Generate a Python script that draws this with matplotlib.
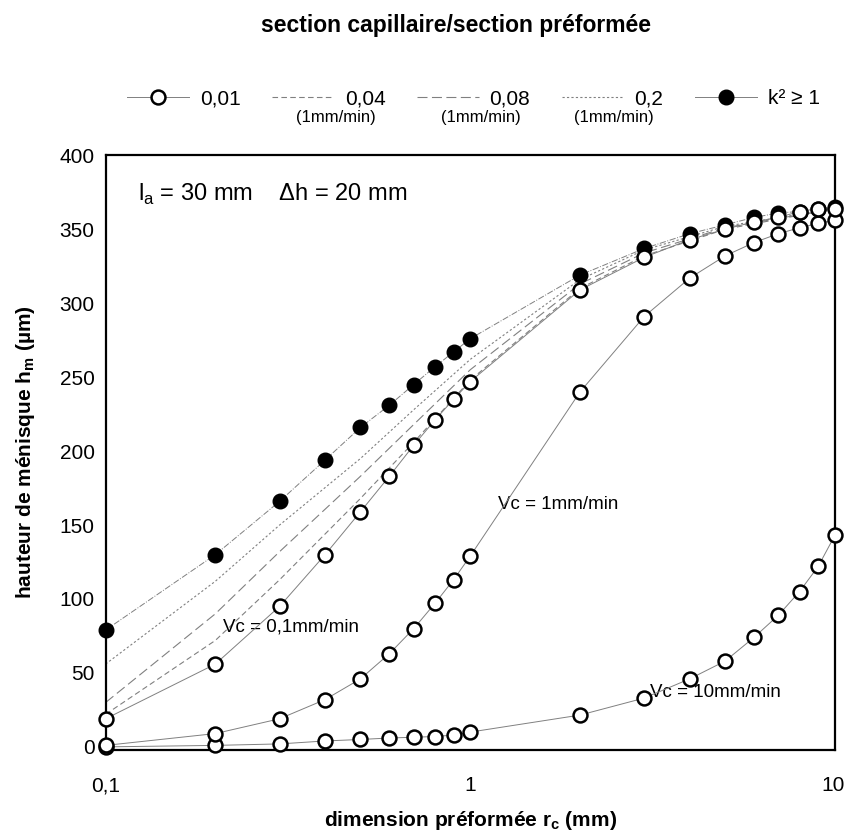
import numpy as np
import matplotlib
matplotlib.use("Agg")
from matplotlib import pyplot as plt
from matplotlib import transforms
from matplotlib.lines import Line2D

plt.rcParams['font.family'] = ['Liberation Sans', 'DejaVu Sans']

# preformed dimension r_c (mm)
x_pts = [0.1, 0.2, 0.3, 0.4, 0.5, 0.6, 0.7, 0.8, 0.9, 1, 2, 3, 4, 5, 6, 7, 8, 9, 10]

# section ratio 0.01, three pulling speeds
h_vc01 = [19, 56, 95, 130, 159, 183, 204, 221, 235, 247, 309, 331, 343, 350, 355, 358, 362, 364, 364]
h_vc1 = [1, 9, 19, 32, 46, 63, 80, 97, 113, 129, 240, 291, 317, 332, 341, 347, 351, 354, 356]
h_vc10 = [0, 1, 2, 4, 5, 6, 6.5, 7, 8, 10, 21.5, 33, 46, 58, 74, 89, 105, 122, 143]

# k^2 >= 1
h_k2 = [79, 130, 166, 194, 216, 231, 245, 257, 267, 276, 319, 337, 347, 353, 358, 361, 362, 364, 365]

# curves only (1mm/min)
x_lines = [0.1, 0.2, 0.3, 0.5, 0.7, 1, 2, 3, 5, 10]
h_004 = [22, 72, 113, 168, 206, 248, 310, 332, 350, 364]
h_008 = [30, 90, 132, 183, 218, 255, 313, 334, 351, 364]
h_02 = [56, 112, 150, 195, 228, 262, 316, 336, 352, 364]

fig = plt.figure(figsize=(8.45, 8.35), dpi=100)
ax = fig.add_axes([0.125, 0.102, 0.863, 0.712])

lc = '0.5'
ax.plot(x_lines, h_004, color=lc, lw=0.8, ls=(0, (5, 3)))
ax.plot(x_lines, h_008, color=lc, lw=0.8, ls=(0, (9, 4)))
ax.plot(x_lines, h_02, color=lc, lw=0.8, ls=(0, (2, 2)))

ax.plot(x_pts, h_k2, color=lc, lw=0.7, ls='-.', marker='o', ms=10.5,
        mfc='black', mec='black', clip_on=False, zorder=3)
for h in (h_vc10, h_vc1, h_vc01):
    ax.plot(x_pts, h, color=lc, lw=0.7, ls='-', marker='o', ms=10,
            mfc='white', mec='black', mew=1.8, clip_on=False, zorder=4)

ax.set_xscale('log')
ax.set_xlim(0.1, 10)
ax.set_ylim(-2, 400)
ax.set_xticks([0.1, 1, 10])
ax.set_xticklabels(['0,1', '1', '10'])
ax.xaxis.set_minor_locator(matplotlib.ticker.NullLocator())
ax.set_yticks(np.arange(0, 401, 50))
ax.tick_params(length=0, labelsize=15)
ax.tick_params(axis='y', pad=8)
ax.tick_params(axis='x', pad=19)
last = ax.get_xticklabels()[-1]
last.set_ha('right')
last.set_transform(last.get_transform() +
                   transforms.ScaledTranslation(10 / 100, 0, fig.dpi_scale_trans))
for s in ax.spines.values():
    s.set_linewidth(1.6)

ax.set_xlabel('dimension préformée r$_\\mathregular{c}$ (mm)', fontsize=15,
              fontweight='bold', labelpad=10)
ax.set_ylabel('hauteur de ménisque h$_\\mathregular{m}$ (µm)', fontsize=15,
              fontweight='bold', labelpad=16)

ax.text(0.045, 0.955, 'l$_\\mathregular{a}$ = 30 mm    Δh = 20 mm',
        transform=ax.transAxes, fontsize=17, va='top')
ax.text(0.21, 81, 'Vc = 0,1mm/min', fontsize=13.5, va='center')
ax.text(1.19, 164, 'Vc = 1mm/min', fontsize=13.5, va='center')
ax.text(3.12, 37, 'Vc = 10mm/min', fontsize=13.5, va='center')

fig.text(0.54, 0.97, 'section capillaire/section préformée', ha='center',
         va='center', fontsize=16.5, fontweight='bold')

handles = [
    Line2D([], [], color=lc, lw=0.7, marker='o', ms=10, mfc='white', mec='black', mew=1.8),
    Line2D([], [], color=lc, lw=0.8, ls=(0, (5, 3))),
    Line2D([], [], color=lc, lw=0.8, ls=(0, (9, 4))),
    Line2D([], [], color=lc, lw=0.8, ls=(0, (2, 2))),
    Line2D([], [], color=lc, lw=0.7, marker='o', ms=10.5, mfc='black', mec='black'),
]
labels = ['0,01', '0,04', '0,08', '0,2', 'k² ≥ 1']
leg = fig.legend(handles, labels, loc='center', bbox_to_anchor=(0.56, 0.882),
                 ncol=5, frameon=False, fontsize=15, handlelength=3.0,
                 handletextpad=0.5, columnspacing=1.5)

fig.canvas.draw()
W, H = fig.bbox.width, fig.bbox.height
for t in leg.get_texts()[1:4]:
    bb = t.get_window_extent()
    fig.text((bb.x1 - 10) / W, (bb.y0 - 2) / H, '(1mm/min)', ha='right',
             va='top', fontsize=12)

fig.savefig('out.png', dpi=100)
